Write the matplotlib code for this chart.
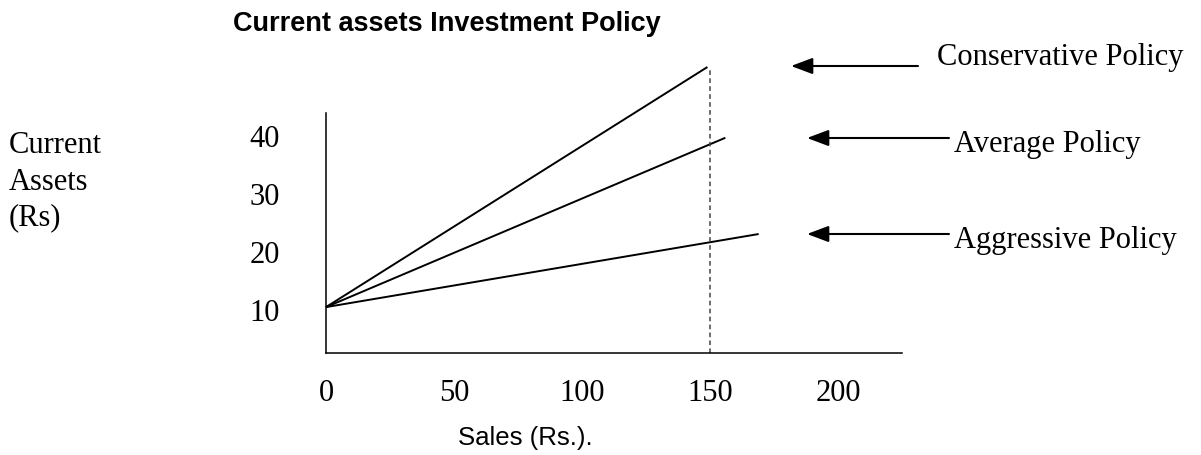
import matplotlib
matplotlib.use("Agg")
import matplotlib.pyplot as plt

# ---- data ----
title = "Current assets Investment Policy"
x_label = "Sales (Rs.)."
y_label = "Current\nAssets\n(Rs)"
x_ticks = [0, 50, 100, 150, 200]
y_ticks = [10, 20, 30, 40]
policy_names = ["Conservative Policy", "Average Policy", "Aggressive Policy"]
start_x = [0, 0, 0]
start_y = [10.5, 10.5, 10.5]
end_x = [149, 156, 169]
end_y = [51.9, 39.7, 23.1]
ref_sales = 150

W, H = 1201, 455
fig = plt.figure(figsize=(W / 100, H / 100), dpi=100)
ax = fig.add_axes([326 / W, (H - 353) / H, (902 - 326) / W, (353 - 113) / H])

serif = ["Liberation Serif", "DejaVu Serif"]
sans = ["Liberation Sans", "DejaVu Sans"]

ax.set_xlim(0, 225)
ax.set_ylim(2.586, 43.97)
for s in ["top", "right"]:
    ax.spines[s].set_visible(False)
for s in ["left", "bottom"]:
    ax.spines[s].set_linewidth(1.1)
    ax.spines[s].set_color("black")

for i in range(len(policy_names)):
    ax.plot([start_x[i], end_x[i]], [start_y[i], end_y[i]], color="black",
            lw=1.4, clip_on=False, solid_capstyle="butt")

ax.vlines(ref_sales, 2.586, end_y[0], colors="#444444", linestyles=(0, (3, 2.2)),
          lw=1.1, clip_on=False)

ax.set_xticks(x_ticks)
ax.set_yticks(y_ticks)
ax.set_xticklabels([str(v) for v in x_ticks], fontfamily=serif, fontsize=22)
ax.set_yticklabels([str(v) for v in y_ticks], fontfamily=serif, fontsize=22)
ax.tick_params(axis="x", length=0, pad=19)
for lab in ax.get_yticklabels():
    lab.set_horizontalalignment("center")
ax.tick_params(axis="y", length=0, pad=44)

# title
fig.text(233 / W, 1 - 24 / H, title, fontfamily=sans, fontweight="bold",
         fontsize=19.5, ha="left", va="center")
# x label
fig.text(525 / W, 1 - 438 / H, x_label, fontfamily=sans, fontsize=18.5,
         ha="center", va="center")
# y label
fig.text(9 / W, 1 - 182 / H, y_label, fontfamily=serif, fontsize=22,
         ha="left", va="center", linespacing=1.32)

# arrows and policy labels
arrow_from = [918, 949, 949]
arrow_to = [791, 807, 807]
arrow_y = [66, 138, 234]
text_x = [937, 954, 954]
text_base = [65, 152, 248]
for i, name in enumerate(policy_names):
    fig.add_artist(matplotlib.patches.FancyArrowPatch(
        (arrow_from[i] / W, 1 - arrow_y[i] / H), (arrow_to[i] / W, 1 - arrow_y[i] / H),
        transform=fig.transFigure, arrowstyle="-|>,head_length=1.2,head_width=0.45",
        mutation_scale=11, lw=1.5, color="black", shrinkA=0, shrinkB=0))
    fig.text(text_x[i] / W, 1 - text_base[i] / H, name, fontfamily=serif,
             fontsize=22, ha="left", va="baseline")

fig.savefig("out.png", dpi=100)
